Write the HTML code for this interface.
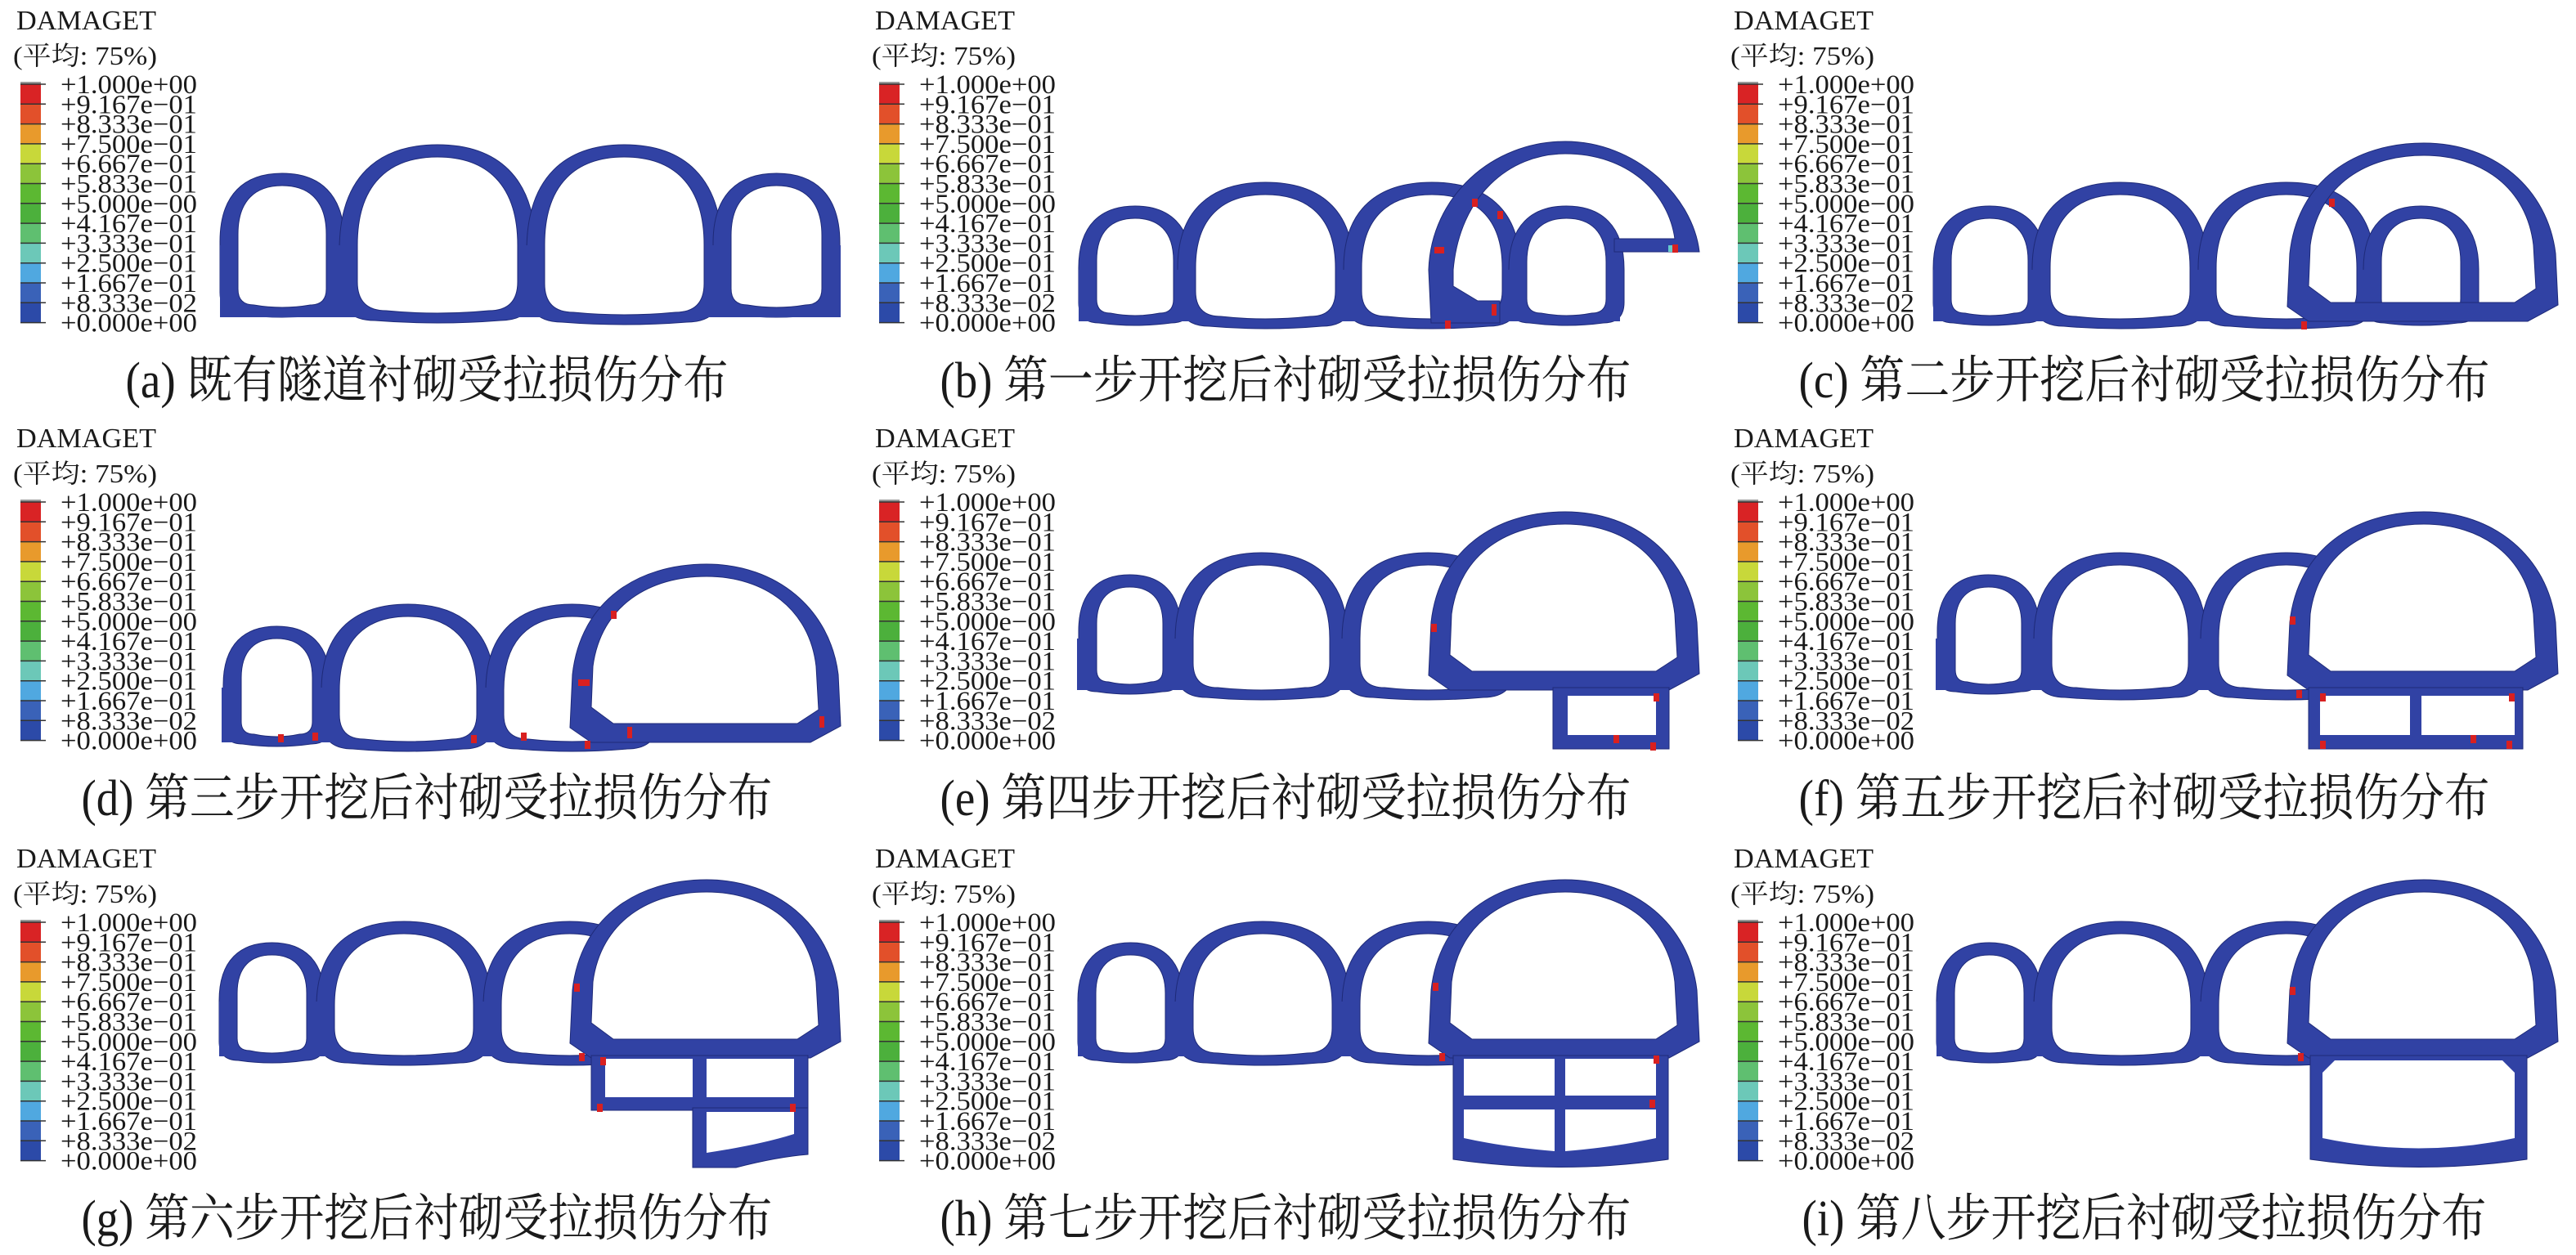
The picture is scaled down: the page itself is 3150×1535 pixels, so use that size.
<!DOCTYPE html>
<html><head><meta charset="utf-8"><style>
html,body{margin:0;padding:0;background:#fff;width:3150px;height:1535px;overflow:hidden}
svg{display:block}
text{font-family:"Liberation Serif","Noto Serif CJK SC",serif;fill:#1a1a1a}
</style></head><body>
<svg id="s" xmlns="http://www.w3.org/2000/svg" width="3150" height="1535" viewBox="0 0 3150 1535"></svg>
<script>
const B='#3142a4',W='#ffffff',R='#d82020';
let out='';
function hole(x0,x1,yt,yb){const w=x1-x0;const ry=Math.min(w*0.55,(yb-yt)*0.6);const ya=yt+ry;const rc=w*0.18;const inv=6;
return `M${x0},${ya} C${x0},${yt+ry*0.3} ${x0+w*0.2},${yt} ${x0+w/2},${yt} C${x1-w*0.2},${yt} ${x1},${yt+ry*0.3} ${x1},${ya} L${x1},${yb-rc} Q${x1},${yb} ${x1-rc},${yb} Q${(x0+x1)/2},${yb+inv} ${x0+rc},${yb} Q${x0},${yb} ${x0},${yb-rc} Z`;}
function existing(list,bx0,bx1,by0,by1,dx){let s='';
list.forEach(h=>{s+=`<path d="${hole(h[0]-22+dx,h[1]+22+dx,h[2]-15,h[3]+12)}" fill="${B}" stroke="#1e2a78" stroke-width="1"/>`;});
s+=`<rect x="${bx0+dx}" y="${by0}" width="${bx1-bx0}" height="${by1-by0}" fill="${B}"/>`;
list.forEach(h=>{s+=`<path d="${hole(h[0]+dx,h[1]+dx,h[2],h[3])}" fill="${W}" stroke="#1e2a78" stroke-width="1"/>`;});
return s;}
function tunnelOuter(o){return `M723,${333+o} L697,${315+o} L700,${250+o} C710,${160+o} 780,${115+o} 864,${115+o} C950,${115+o} 1015,${170+o} 1025,${250+o} L1028,${313+o} L991,${333+o} Z`;}
function tunnelInner(o){return `M750,${310+o} L723,${290+o} L725,${240+o} C735,${165+o} 795,${130+o} 864,${130+o} C935,${130+o} 990,${170+o} 998,${240+o} L1001,${293+o} L975,${310+o} Z`;}
function tunnelSolid(o){return `<path d="${tunnelOuter(o)}" fill="${B}" stroke="#1e2a78"/><path d="${tunnelInner(o)}" fill="${W}" stroke="#1e2a78"/>`;}
function reds(arr){return arr.map(p=>`<rect x="${p[0]-3}" y="${p[1]-5}" width="${p[2]||7}" height="${p[3]||10}" fill="${R}"/>`).join('');}
const legendColors=['#d92325','#e2502a','#e89a2c','#c8d83a','#8cc43a','#5cb832','#4cb03c','#5fbf70','#6cc8b8','#50a8e0','#3a62b8','#2c4aa8'];
const labels=['+1.000e+00','+9.167e-01','+8.333e-01','+7.500e-01','+6.667e-01','+5.833e-01','+5.000e-00','+4.167e-01','+3.333e-01','+2.500e-01','+1.667e-01','+8.333e-02','+0.000e+00'];
function legend(){let s='';
s+=`<text x="20" y="36" font-size="34" textLength="171" lengthAdjust="spacingAndGlyphs">DAMAGET</text>`;
s+=`<text x="16" y="79" font-size="32" textLength="176" lengthAdjust="spacingAndGlyphs">(平均: 75%)</text>`;
const top=103,step=24.3;
s+=`<rect x="25" y="${top-3}" width="25" height="4" fill="#999"/>`;
legendColors.forEach((c,i)=>{s+=`<rect x="25" y="${top+i*step}" width="25" height="${step+0.5}" fill="${c}"/>`;});
labels.forEach((l,i)=>{const y=top+i*step;
s+=`<line x1="25" y1="${y}" x2="56" y2="${y}" stroke="#333" stroke-width="1.5"/>`;
s+=`<text x="74" y="${y+11}" font-size="33" textLength="167" lengthAdjust="spacingAndGlyphs">${l.replace(/-/g,'−')}</text>`;});
return s;}
function caption(t,len){return `<text x="522" y="486" font-size="62" text-anchor="middle" textLength="${len}" lengthAdjust="spacingAndGlyphs">${t}</text>`;}
const panels=[];
panels.push([0,0,existing([[291,399,227,373],[437,633,192,380],[666,861,192,382],[894,1005,227,373]],269,1028,300,388,0),'(a) 既有隧道衬砌受拉损伤分布',737]);
const exB=[[291,385,267,383],[412,583,238,387],[615,787,238,387],[817,914,267,383]];
let b=existing(exB,269,931,330,393,0);
b+=`<path d="M700,395 L697,330 C700,240 775,173 864,173 C950,173 1020,240 1028,308 L924,308 L924,292 L998,292 C990,235 940,188 864,188 C795,188 735,240 727,330 L727,350 L757,368 L784,368 L784,395 Z" fill="${B}" stroke="#1e2a78"/>`;
b+=reds([[753,248],[784,263],[707,307,12,8],[777,377,6,14],[720,397],[998,304]]);
b+=`<rect x="990" y="300" width="5" height="8" fill="#6cc"/>`;
panels.push([1050,0,b,'(b) 第一步开挖后衬砌受拉损伤分布',845]);
let c=existing(exB,269,931,330,393,-5);
c+=`<path fill-rule="evenodd" d="${tunnelOuter(60)} ${tunnelInner(60)}" fill="${B}" stroke="#1e2a78"/>`;
c+=reds([[751,248],[717,398]]);
panels.push([2100,0,c,'(c) 第二步开挖后衬砌受拉损伤分布',845]);
let d=existing([[295,382,270,387],[415,583,243,393],[616,783,243,393]],271,723,330,397,0);
d+=tunnelSolid(64);
d+=reds([[750,241],[710,325,14,8],[770,383,6,14],[1005,370,6,14],[385,390],[579,393],[640,390],[718,400],[343,392]]);
panels.push([0,511,d,'(d) 第三步开挖后衬砌受拉损伤分布',845]);
const exE=[[291,372,207,323],[409,576,180,330],[613,780,180,330]];
let e=existing(exE,267,723,270,333,0);
e+=tunnelSolid(0);
e+=`<rect x="849" y="330" width="142" height="75" fill="${B}" stroke="#1e2a78"/><rect x="867" y="340" width="108" height="48" fill="${W}"/>`;
e+=reds([[703,257],[975,342],[926,393],[971,402]]);
panels.push([1050,511,e,'(e) 第四步开挖后衬砌受拉损伤分布',845]);
let f=existing(exE,267,723,270,333,0);
f+=tunnelSolid(0);
f+=`<rect x="723" y="330" width="262" height="75" fill="${B}" stroke="#1e2a78"/><rect x="737" y="340" width="110" height="48" fill="${W}"/><rect x="861" y="340" width="114" height="48" fill="${W}"/>`;
f+=reds([[703,248],[740,342],[971,342],[740,400],[924,393],[968,400],[711,338]]);
panels.push([2100,511,f,'(f) 第五步开挖后衬砌受拉损伤分布',845]);
const exG=[[290,375,143,260],[409,579,117,263],[613,780,117,263]];
let g=existing(exG,268,723,200,267,0);
g+=tunnelSolid(-64);
g+=`<rect x="723" y="266" width="265" height="67" fill="${B}" stroke="#1e2a78"/><rect x="740" y="270" width="107" height="47" fill="${W}"/><rect x="864" y="270" width="107" height="47" fill="${W}"/>`;
g+=`<path d="M847,330 L988,330 L988,387 Q950,390 900,403 L847,403 Z" fill="${B}" stroke="#1e2a78"/><path d="M864,335 L971,335 L971,362 Q930,375 864,385 Z" fill="${W}"/>`;
g+=reds([[705,183],[737,273],[733,330],[969,330],[711,268]]);
panels.push([0,1025,g,'(g) 第六步开挖后衬砌受拉损伤分布',845]);
let h=existing(exG,268,723,200,267,0);
h+=tunnelSolid(-64);
h+=`<path d="M727,266 L990,266 L990,393 Q858,412 727,393 Z" fill="${B}" stroke="#1e2a78"/>`;
h+=`<rect x="740" y="270" width="111" height="45" fill="${W}"/><rect x="864" y="270" width="111" height="45" fill="${W}"/>`;
h+=`<path d="M740,332 L851,332 L851,383 Q790,378 740,367 Z" fill="${W}"/><path d="M864,332 L975,332 L975,367 Q925,378 864,383 Z" fill="${W}"/>`;
h+=reds([[705,182],[713,268],[975,271],[970,325]]);
panels.push([1050,1025,h,'(h) 第七步开挖后衬砌受拉损伤分布',845]);
let i=existing(exG,268,723,200,267,0);
i+=tunnelSolid(-64);
i+=`<path d="M725,266 L990,266 L990,393 Q858,412 725,393 Z" fill="${B}" stroke="#1e2a78"/>`;
i+=`<path d="M755,272 L960,272 L975,287 L975,367 Q858,392 740,367 L740,287 Z" fill="${W}"/>`;
i+=reds([[703,187],[713,268]]);
panels.push([2100,1025,i,'(i) 第八步开挖后衬砌受拉损伤分布',837]);
panels.forEach(p=>{out+=`<g transform="translate(${p[0]},${p[1]})">${legend()}${p[2]}${caption(p[3],p[4])}</g>`;});
document.getElementById('s').innerHTML=out;
</script>
</body></html>
